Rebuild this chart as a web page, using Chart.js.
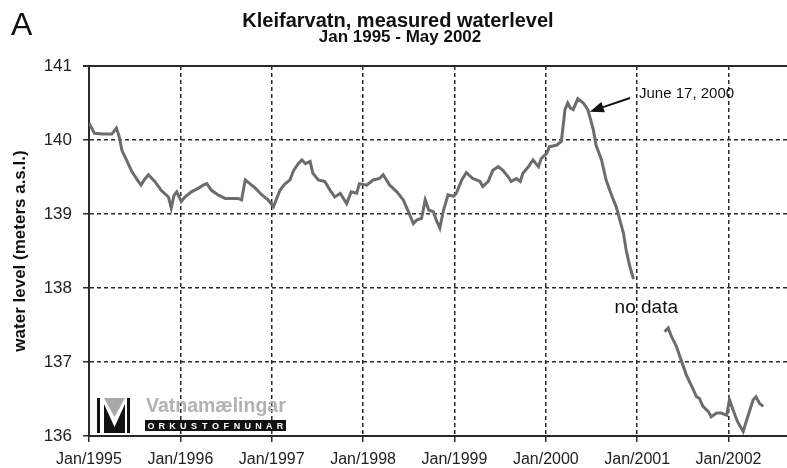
<!DOCTYPE html>
<html>
<head>
<meta charset="utf-8">
<script src="https://cdn.jsdelivr.net/npm/chart.js@4.4.0/dist/chart.umd.min.js"></script>
<style>
  html, body { margin: 0; padding: 0; background: #fff; }
  canvas { display: block; }
</style>
</head>
<body>
<canvas id="level-chart" width="787" height="468"></canvas>
<script>
// measured water level, decimal year vs meters a.s.l.
const years1 = [1995.00, 1995.03, 1995.06, 1995.15, 1995.25, 1995.30, 1995.33, 1995.36, 1995.41, 1995.47,
  1995.54, 1995.57, 1995.61, 1995.65, 1995.72, 1995.79, 1995.87, 1995.90, 1995.93, 1995.96,
  1996.01, 1996.05, 1996.12, 1996.20, 1996.25, 1996.29, 1996.34, 1996.41, 1996.49, 1996.56,
  1996.63, 1996.67, 1996.71, 1996.76, 1996.82, 1996.89, 1996.96, 1997.02, 1997.09, 1997.14,
  1997.20, 1997.24, 1997.29, 1997.33, 1997.37, 1997.42, 1997.45, 1997.51, 1997.58, 1997.64,
  1997.69, 1997.75, 1997.82, 1997.87, 1997.93, 1997.96, 1998.04, 1998.11, 1998.18, 1998.22,
  1998.29, 1998.37, 1998.44, 1998.49, 1998.55, 1998.59, 1998.64, 1998.68, 1998.72, 1998.77,
  1998.80, 1998.84, 1998.88, 1998.93, 1998.99, 1999.02, 1999.08, 1999.13, 1999.20, 1999.28,
  1999.31, 1999.37, 1999.42, 1999.48, 1999.53, 1999.59, 1999.62, 1999.68, 1999.72, 1999.75,
  1999.81, 1999.86, 1999.92, 1999.95, 2000.01, 2000.04, 2000.12, 2000.17, 2000.21, 2000.24,
  2000.27, 2000.30, 2000.35, 2000.41, 2000.46, 2000.52, 2000.55, 2000.61, 2000.66, 2000.70,
  2000.74, 2000.77, 2000.81, 2000.85, 2000.88, 2000.92, 2000.96];
const levels1 = [140.23, 140.16, 140.09, 140.08, 140.08, 140.16, 140.05, 139.86, 139.73, 139.57,
  139.44, 139.39, 139.47, 139.53, 139.44, 139.32, 139.23, 139.08, 139.25, 139.30,
  139.17, 139.23, 139.30, 139.35, 139.39, 139.41, 139.32, 139.26, 139.21, 139.21,
  139.21, 139.19, 139.46, 139.41, 139.35, 139.26, 139.19, 139.10, 139.32, 139.40,
  139.46, 139.59, 139.68, 139.73, 139.68, 139.71, 139.55, 139.46, 139.44, 139.32,
  139.23, 139.28, 139.14, 139.30, 139.28, 139.41, 139.39, 139.46, 139.48, 139.53,
  139.39, 139.30, 139.19, 139.05, 138.87, 138.92, 138.94, 139.19, 139.05, 139.03,
  138.92, 138.81, 139.05, 139.26, 139.24, 139.28, 139.46, 139.56, 139.48, 139.44,
  139.37, 139.44, 139.59, 139.64, 139.59, 139.50, 139.44, 139.48, 139.44, 139.55,
  139.64, 139.73, 139.64, 139.75, 139.82, 139.91, 139.93, 139.98, 140.41, 140.50,
  140.43, 140.41, 140.56, 140.50, 140.41, 140.14, 139.93, 139.73, 139.46, 139.32,
  139.19, 139.10, 138.92, 138.74, 138.51, 138.29, 138.12];

// after the gap ("no data")
const years2 = [2001.30, 2001.34, 2001.37, 2001.43, 2001.48, 2001.54, 2001.59, 2001.65, 2001.68, 2001.72,
  2001.78, 2001.81, 2001.87, 2001.92, 2001.98, 2002.01, 2002.05, 2002.10, 2002.16, 2002.21,
  2002.27, 2002.30, 2002.34, 2002.38];
const levels2 = [137.41, 137.46, 137.36, 137.21, 137.03, 136.82, 136.69, 136.53, 136.51, 136.40,
  136.33, 136.26, 136.31, 136.31, 136.28, 136.49, 136.35, 136.19, 136.06, 136.26,
  136.49, 136.53, 136.44, 136.40];

const tickYears = [1995, 1996, 1997, 1998, 1999, 2000, 2001, 2002];
const titleLines = ['Kleifarvatn, measured waterlevel', 'Jan 1995 - May 2002'];
const noteText = 'June 17, 2000';
const noteYear = 2000.46;
const noteLevel = 140.41;

const FONT = '"Liberation Sans", Arial, Helvetica, sans-serif';
const lineGray = '#6c6c6c';
const ink = '#222';

function toPoints(xs, ys) {
    return xs.map((x, i) => ({ x: x, y: ys[i] }));
}

// title, panel letter, annotation, logo
const decorations = {
    id: 'decorations',
    afterDraw(chart) {
        const ctx = chart.ctx;
        const xs = chart.scales.x;
        const ys = chart.scales.y;
        ctx.save();
        ctx.fillStyle = '#111';
        ctx.textBaseline = 'alphabetic';

        ctx.textAlign = 'left';
        ctx.font = '32px ' + FONT;
        ctx.fillText('A', 11, 35);

        ctx.textAlign = 'center';
        ctx.font = 'bold 20px ' + FONT;
        ctx.fillText(titleLines[0], 398, 27);
        ctx.font = 'bold 17px ' + FONT;
        ctx.fillText(titleLines[1], 400, 42);

        // arrow to June 17, 2000
        const px = xs.getPixelForValue(noteYear) + 2;
        const py = ys.getPixelForValue(noteLevel) + 2;
        const tx = 630, ty = 98;
        const ang = Math.atan2(py - ty, px - tx);
        const hl = 14, hw = 5.5;
        const bx = px - hl * Math.cos(ang), by = py - hl * Math.sin(ang);
        ctx.strokeStyle = '#111';
        ctx.lineWidth = 2;
        ctx.beginPath();
        ctx.moveTo(tx, ty);
        ctx.lineTo(bx, by);
        ctx.stroke();
        ctx.beginPath();
        ctx.moveTo(px, py);
        ctx.lineTo(bx + hw * Math.sin(ang), by - hw * Math.cos(ang));
        ctx.lineTo(bx - hw * Math.sin(ang), by + hw * Math.cos(ang));
        ctx.closePath();
        ctx.fill();

        ctx.textAlign = 'left';
        ctx.font = '15px ' + FONT;
        ctx.fillText(noteText, 639, 98);

        ctx.textAlign = 'center';
        ctx.font = '19px ' + FONT;
        ctx.fillText('no data', xs.getPixelForValue(2001.1), ys.getPixelForValue(137.66));

        // Vatnamaelingar logo
        ctx.fillStyle = '#111';
        ctx.fillRect(97, 398, 3, 35);
        ctx.fillRect(127, 398, 3, 35);
        ctx.fillStyle = '#a8a8a8';
        ctx.beginPath();
        ctx.moveTo(104, 398);
        ctx.lineTo(125, 398);
        ctx.lineTo(114.5, 417);
        ctx.closePath();
        ctx.fill();
        ctx.fillStyle = '#111';
        ctx.beginPath();
        ctx.moveTo(104, 404);
        ctx.lineTo(114.5, 427);
        ctx.lineTo(125, 404);
        ctx.lineTo(125, 433);
        ctx.lineTo(104, 433);
        ctx.closePath();
        ctx.fill();

        ctx.textAlign = 'left';
        ctx.fillStyle = '#b2b2b2';
        ctx.font = 'bold 19.5px ' + FONT;
        ctx.fillText('Vatnamælingar', 146, 412);

        ctx.fillStyle = '#111';
        ctx.fillRect(145, 420, 141, 11);
        ctx.fillStyle = '#fff';
        ctx.font = 'bold 9px ' + FONT;
        ctx.textAlign = 'center';
        const word = 'ORKUSTOFNUNAR';
        for (let i = 0; i < word.length; i++) {
            ctx.fillText(word[i], 151 + i * 10.75, 429);
        }
        ctx.restore();
    }
};

const config = {
    type: 'line',
    data: {
        datasets: [
            {
                data: toPoints(years1, levels1),
                borderColor: lineGray,
                borderWidth: 3,
                pointRadius: 0,
                tension: 0
            },
            {
                data: toPoints(years2, levels2),
                borderColor: lineGray,
                borderWidth: 3,
                pointRadius: 0,
                tension: 0
            }
        ]
    },
    options: {
        responsive: false,
        animation: false,
        layout: {
            padding: { top: 66, left: 0, right: 0, bottom: 0 }
        },
        plugins: {
            legend: { display: false },
            tooltip: { enabled: false }
        },
        scales: {
            x: {
                type: 'linear',
                min: 1995,
                max: 2002.64,
                afterFit: scale => { scale.height = 32; },
                ticks: {
                    stepSize: 1,
                    includeBounds: false,
                    autoSkip: false,
                    maxRotation: 0,
                    padding: 8,
                    color: ink,
                    font: { family: FONT, size: 16 },
                    callback: v => tickYears.includes(v) ? 'Jan/' + v : ''
                },
                grid: {
                    color: '#2a2a2a',
                    lineWidth: 1.5,
                    tickLength: 6,
                    tickColor: '#2a2a2a'
                },
                border: {
                    color: '#2a2a2a',
                    width: 2,
                    dash: [4, 3]
                }
            },
            y: {
                min: 136,
                max: 141,
                afterFit: scale => { scale.width = 89; },
                ticks: {
                    stepSize: 1,
                    padding: 11,
                    color: ink,
                    font: { family: FONT, size: 17 }
                },
                grid: {
                    color: '#2a2a2a',
                    lineWidth: ctx => (ctx.tick && ctx.tick.value === 141) ? 2 : 1.5,
                    tickLength: 6,
                    tickColor: '#2a2a2a'
                },
                border: {
                    color: '#2a2a2a',
                    width: 2,
                    dash: ctx => (ctx.tick && ctx.tick.value === 141) ? [] : [4, 3]
                },
                title: {
                    display: true,
                    text: 'water level (meters a.s.l.)',
                    color: '#111',
                    font: { family: FONT, size: 17, weight: 'bold' },
                    padding: { top: 10, bottom: 0 }
                }
            }
        }
    },
    plugins: [decorations]
};

const levelChart = new Chart(document.getElementById('level-chart'), config);
</script>
</body>
</html>
